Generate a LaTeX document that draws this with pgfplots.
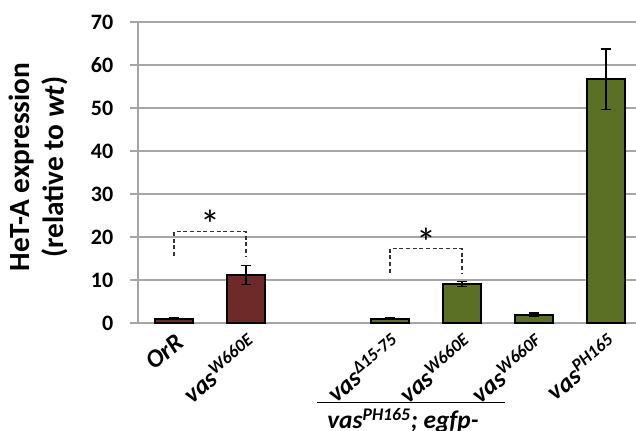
\documentclass[border=0pt]{standalone}
\usepackage{pgfplots}
\pgfplotsset{compat=1.18}
\usepackage{fontspec}
\setmainfont{Carlito}
\definecolor{barred}{HTML}{6E2A28}
\definecolor{bargreen}{HTML}{5B7025}
\definecolor{gridgray}{HTML}{A6A6A6}
\newcommand{\vas}[1]{\textit{vas}\textsuperscript{\textit{#1}}}
\begin{document}
\begin{tikzpicture}
\path[use as bounding box] (-103.5pt,-81pt) rectangle (373.5pt,242.25pt);
\begin{axis}[
  at={(0pt,0pt)}, anchor=south west,
  scale only axis, width=373.5pt, height=225.75pt,
  xmin=-0.5, xmax=6.417, ymin=0, ymax=70,
  ytick={0,10,...,70},
  xtick={0,1,3,4,5,6},
  xticklabels={\textit{OrR}, \vas{W660E}, \vas{Δ15-75}, \vas{W660E}, \vas{W660F}, \vas{PH165}},
  ymajorgrids, major grid style={gridgray, line width=0.9pt},
  axis x line*=bottom, axis y line*=left,
  axis line style={gridgray, line width=0.9pt, -},
  y axis line style={gridgray},
  major x tick style={draw=none},
  major y tick style={gridgray, line width=0.9pt},
  ytick align=outside, major tick length=6pt,
  /pgf/number format/assume math mode=true,
  yticklabel style={font=\bfseries\fontsize{16.5}{16.5}\selectfont, text=black, xshift=-9pt},
  xticklabel style={font=\bfseries\fontsize{19}{19}\selectfont, rotate=40, anchor=north east, inner sep=0pt, yshift=-1pt},
  clip=false,
  ybar, bar width=28.5pt, bar shift=0pt,
  error bars/error bar style={black, line width=1pt},
  error bars/error mark options={rotate=90, mark size=4pt, line width=1pt, black},
]
\addplot[fill=barred, draw=black, line width=1.3pt,
  error bars/.cd, y dir=both, y explicit]
  coordinates {(0,1.0) +- (0,0.15) (1,11.2) +- (0,2.2)};
\addplot[fill=bargreen, draw=black, line width=1.3pt,
  error bars/.cd, y dir=both, y explicit]
  coordinates {(3,1.0) +- (0,0.2) (4,9.1) +- (0,0.6) (5,1.9) +- (0,0.4) (6,56.7) +- (0,7.0)};
% significance brackets
\draw[dashed, dash pattern=on 3pt off 2pt, black!80, line width=0.8pt]
  (axis cs:0,15.6) -- (axis cs:0,21.2) -- (axis cs:1,21.2) -- (axis cs:1,15.6);
\node[font=\fontsize{30}{30}\selectfont] at (axis cs:0.5,23.0) {*};
\draw[dashed, dash pattern=on 3pt off 2pt, black!80, line width=0.8pt]
  (axis cs:3,11.7) -- (axis cs:3,17.3) -- (axis cs:4,17.3) -- (axis cs:4,11.7);
\node[font=\fontsize{30}{30}\selectfont] at (axis cs:3.5,18.8) {*};
% group label
\draw[black, line width=0.8pt] (axis cs:1.986,-18.4) -- (axis cs:4.597,-18.4);
\node[anchor=base, font=\bfseries\itshape\fontsize{19}{19}\selectfont] at (axis cs:3.18,-24.6) {\vas{PH165}; egfp-};
% y label
\node[rotate=90, align=center, font=\bfseries\fontsize{22}{26}\selectfont]
  at (axis description cs:-0.2,0.518) {HeT-A expression\\(relative to \textit{wt})};
\end{axis}
\end{tikzpicture}
\end{document}
